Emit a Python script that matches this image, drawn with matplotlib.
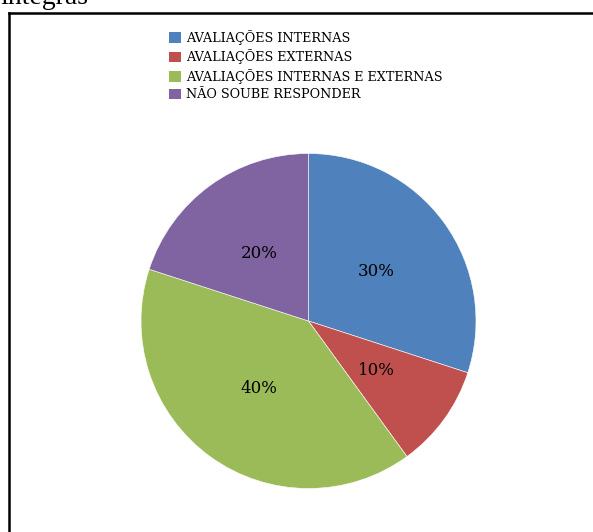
import matplotlib
matplotlib.use('Agg')
import matplotlib.pyplot as plt
from matplotlib.lines import Line2D
from matplotlib.patches import Patch

labels = ['AVALIAÇÕES INTERNAS', 'AVALIAÇÕES EXTERNAS',
          'AVALIAÇÕES INTERNAS E EXTERNAS', 'NÃO SOUBE RESPONDER']
values = [30, 10, 40, 20]
colors = ['#4F81BD', '#C0504D', '#9BBB59', '#8064A2']

W, H = 593, 532
fig = plt.figure(figsize=(W / 100, H / 100), dpi=100)

# cut-off text above the frame
fig.text(0.0, 1 - 4 / H, 'integras', fontsize=20, family='Liberation Serif',
         va='baseline', ha='left')

# frame (top and left edges only visible)
fig.add_artist(Line2D([9 / W, 1.0], [1 - 13 / H, 1 - 13 / H], color='black', lw=1.8,
                      transform=fig.transFigure))
fig.add_artist(Line2D([9 / W, 9 / W], [1 - 13 / H, 0.0], color='black', lw=1.8,
                      transform=fig.transFigure))

cx, cy, r = 308.5, 321, 167.5
ax = fig.add_axes([(cx - r) / W, (H - cy - r) / H, 2 * r / W, 2 * r / H])
wedges, texts, autotexts = ax.pie(values, colors=colors, startangle=90, counterclock=False,
                                  autopct='%d%%', pctdistance=0.5,
                                  wedgeprops=dict(edgecolor='white', linewidth=0.4),
                                  textprops=dict(family='DejaVu Serif', fontsize=12))
ax.set_xlim(-1, 1)
ax.set_ylim(-1, 1)
ax.set_aspect('equal')
ax.axis('off')

handles = [Patch(facecolor=c, edgecolor='none') for c in colors]
fig.legend(handles, labels, loc='upper left', bbox_to_anchor=(169 / W, 1 - 30 / H),
           frameon=False, prop=dict(family='DejaVu Serif', size=9.2),
           handlelength=0.9, handleheight=0.9, handletextpad=0.45,
           labelspacing=0.36, borderpad=0, borderaxespad=0)

fig.savefig('out.png', dpi=100)
